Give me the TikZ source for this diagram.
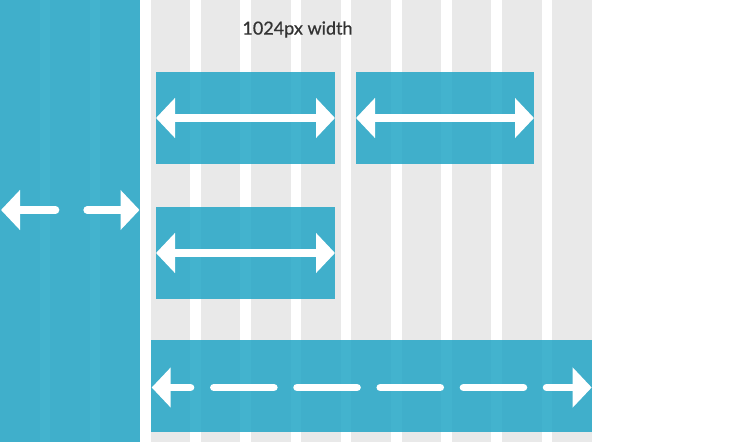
\documentclass[tikz,border=0pt]{standalone}
\usepackage{fontspec}
\setmainfont{Lato}
\newfontfamily\titlefont{Lato}[FakeBold=0.6]
\usetikzlibrary{arrows.meta}
\definecolor{colgray}{RGB}{233,233,233}
\definecolor{boxblue}{RGB}{35,166,198}
\definecolor{titlegray}{RGB}{51,51,51}
\tikzset{
  blk/.style={rectangle, fill=boxblue, fill opacity=0.85, draw=none, inner sep=0pt, outer sep=0pt},
  warrow/.style={draw=white, line width=7.7pt, {Triangle[length=19pt,width=39pt]}-{Triangle[length=19pt,width=39pt]}},
  rarrow/.style={draw=white, line width=7.7pt, line cap=round, -{Triangle[length=19pt,width=39pt]}},
  larrow/.style={draw=white, line width=7.7pt, line cap=round, {Triangle[length=19pt,width=39pt]}-},
  wdash/.style={draw=white, line width=7.7pt, line cap=round}
}
\begin{document}
\begin{tikzpicture}[x=1pt,y=-1pt]
\useasboundingbox (0,0) rectangle (750,442);
\fill[white] (0,0) rectangle (750,442);
% grid columns
\foreach \i in {0,...,11} \fill[colgray] ({\i*50.2},0) rectangle ({\i*50.2+39.5},442);
% title
\node[font=\titlefont\fontsize{18}{22}\selectfont, text=titlegray, inner sep=0pt] (title) at (297.5,29.5) {1024px width};
% blocks
\node[blk, minimum width=140pt, minimum height=442pt] (side) at (70,221) {};
\node[blk, minimum width=179pt, minimum height=92pt] (b1) at (245.5,118) {};
\node[blk, minimum width=178pt, minimum height=92pt] (b2) at (445,118) {};
\node[blk, minimum width=179pt, minimum height=92pt] (b3) at (245.5,253) {};
\node[blk, minimum width=440.7pt, minimum height=92pt] (bar) at (371.35,386) {};
% double arrows
\draw[warrow] (b1.west) -- (b1.east);
\draw[warrow] (b2.west) -- (b2.east);
\draw[warrow] (b3.west) -- (b3.east);
% side arrows
\coordinate (sl) at (1,210);
\coordinate (slend) at (55.5,210);
\coordinate (srstart) at (87.2,210);
\coordinate (sr) at (139.5,210);
\draw[larrow] (sl) -- (slend);
\draw[rarrow] (srstart) -- (sr);
% bar dashed arrow
\coordinate (bl) at (151.7,387.5);
\coordinate (blend) at (190.5,387.5);
\draw[larrow] (bl) -- (blend);
\foreach \s in {0,1,2,3} {
  \draw[wdash] ({213.9+\s*83.2},387.5) -- ({273.8+\s*83.2},387.5);
}
\coordinate (brstart) at (546.6,387.5);
\coordinate (br) at (591.7,387.5);
\draw[rarrow] (brstart) -- (br);
\end{tikzpicture}
\end{document}
